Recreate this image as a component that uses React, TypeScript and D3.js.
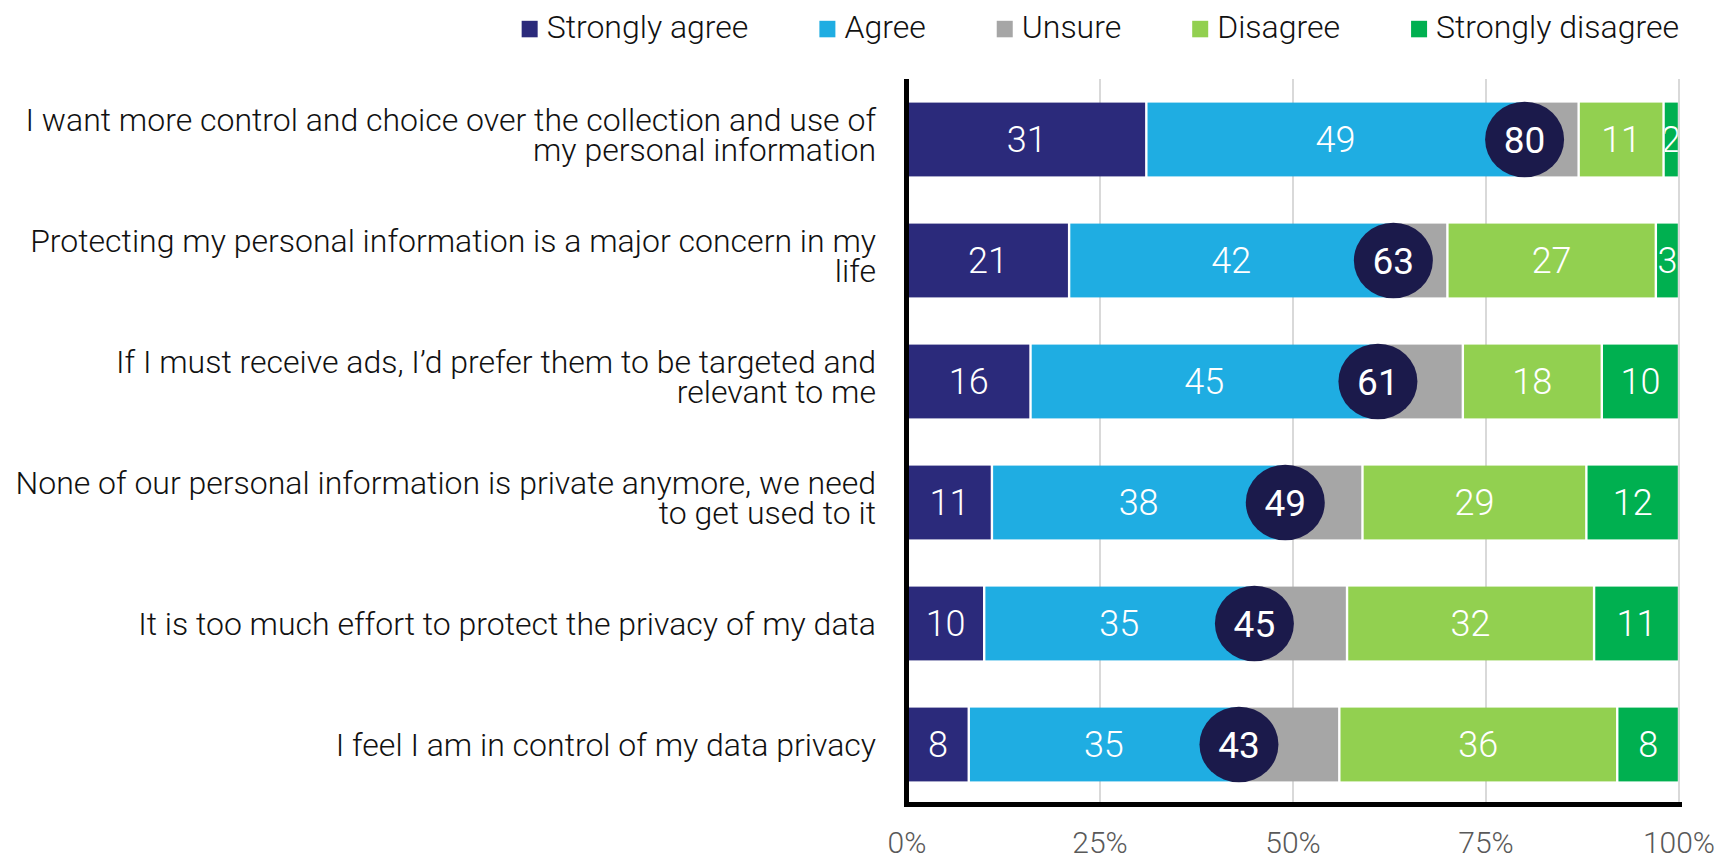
import React, { useEffect, useRef } from "react";
import * as d3 from "d3";

const categoryLines: string[][] = [
  ["I want more control and choice over the collection and use of", "my personal information"],
  ["Protecting my personal information is a major concern in my", "life"],
  ["If I must receive ads, I\u2019d prefer them to be targeted and", "relevant to me"],
  ["None of our personal information is private anymore, we need", "to get used to it"],
  ["It is too much effort to protect the privacy of my data"],
  ["I feel I am in control of my data privacy"],
];
const seriesNames = ["Strongly agree", "Agree", "Unsure", "Disagree", "Strongly disagree"];
const stronglyAgree = [31, 21, 16, 11, 10, 8];
const agree = [49, 42, 45, 38, 35, 35];
const unsure = [7, 7, 11, 10, 12, 13];
const disagree = [11, 27, 18, 29, 32, 36];
const stronglyDisagree = [2, 3, 10, 12, 11, 8];
const showValue = [true, true, false, true, true];
const tickValues = [0, 25, 50, 75, 100];
const colors = ["#2b2a7b", "#1fade2", "#a6a6a6", "#92d050", "#00b050"];

const W = 1722;
const H = 858;
const FONT = "Roboto, 'Noto Sans', sans-serif";

export default function App() {
  const ref = useRef<SVGSVGElement>(null);

  useEffect(() => {
    const svg = d3.select(ref.current);
    svg.selectAll("*").remove();

    const ids = categoryLines.map((_, i) => "c" + i);
    const rows = ids.map((id, i) => ({
      id,
      [seriesNames[0]]: stronglyAgree[i],
      [seriesNames[1]]: agree[i],
      [seriesNames[2]]: unsure[i],
      [seriesNames[3]]: disagree[i],
      [seriesNames[4]]: stronglyDisagree[i],
    }));
    const stacked = d3.stack<any>().keys(seriesNames)(rows);

    const x = d3.scaleLinear().domain([0, 100]).range([907, 1679]);
    const y = d3
      .scaleBand<string>()
      .domain(ids)
      .range([79, 805])
      .paddingInner(0.39)
      .paddingOuter(0.195);

    const defs = svg.append("defs");

    // gridlines
    svg
      .append("g")
      .selectAll("line")
      .data(tickValues.filter((t) => t > 0))
      .join("line")
      .attr("x1", (d) => x(d))
      .attr("x2", (d) => x(d))
      .attr("y1", 79)
      .attr("y2", 803)
      .attr("stroke", "#d9d9d9")
      .attr("stroke-width", 2);

    // bars
    const gap = 1.2;
    stacked.forEach((layer, si) => {
      const g = svg.append("g");
      layer.forEach((seg, ri) => {
        const x0 = x(seg[0]);
        const x1 = x(seg[1]);
        const yy = y(ids[ri])!;
        const bw = y.bandwidth();
        const rx0 = si === 0 ? x0 : x0 + gap;
        const rw = Math.max(0, x1 - gap - rx0);
        g.append("rect")
          .attr("x", rx0)
          .attr("y", yy)
          .attr("width", rw)
          .attr("height", bw)
          .attr("fill", colors[si]);
        if (showValue[si]) {
          const cid = `clip-${si}-${ri}`;
          defs
            .append("clipPath")
            .attr("id", cid)
            .append("rect")
            .attr("x", rx0)
            .attr("y", yy)
            .attr("width", rw)
            .attr("height", bw);
          g.append("text")
            .attr("clip-path", `url(#${cid})`)
            .attr("x", (x0 + x1) / 2)
            .attr("y", yy + bw / 2)
            .attr("dy", "0.36em")
            .attr("text-anchor", "middle")
            .attr("font-family", FONT)
            .attr("font-weight", 300)
            .attr("font-size", 36)
            .attr("fill", "#ffffff")
            .text(String(seg[1] - seg[0]));
        }
      });
    });

    // total ellipses
    const totals = ids.map((_, i) => stronglyAgree[i] + agree[i]);
    const tg = svg.append("g");
    totals.forEach((t, i) => {
      const cy = y(ids[i])! + y.bandwidth() / 2;
      tg.append("ellipse")
        .attr("cx", x(t))
        .attr("cy", cy)
        .attr("rx", 39.5)
        .attr("ry", 37.8)
        .attr("fill", "#1b1a4b");
      tg.append("text")
        .attr("x", x(t))
        .attr("y", cy)
        .attr("dy", "0.36em")
        .attr("text-anchor", "middle")
        .attr("font-family", FONT)
        .attr("font-weight", 400)
        .attr("font-size", 37)
        .attr("fill", "#ffffff")
        .text(String(t));
    });

    // axes
    svg
      .append("line")
      .attr("x1", 906.5)
      .attr("x2", 906.5)
      .attr("y1", 79)
      .attr("y2", 807)
      .attr("stroke", "#000")
      .attr("stroke-width", 5);
    svg
      .append("line")
      .attr("x1", 904)
      .attr("x2", 1682)
      .attr("y1", 804.5)
      .attr("y2", 804.5)
      .attr("stroke", "#000")
      .attr("stroke-width", 5);

    // tick labels
    svg
      .append("g")
      .selectAll("text")
      .data(tickValues)
      .join("text")
      .attr("x", (d) => x(d))
      .attr("y", 853)
      .attr("text-anchor", "middle")
      .attr("font-family", FONT)
      .attr("font-weight", 300)
      .attr("font-size", 30)
      .attr("fill", "#595959")
      .text((d) => d + "%");

    // category labels
    const lineH = 30;
    const lg = svg.append("g");
    categoryLines.forEach((lines, i) => {
      const cy = y(ids[i])! + y.bandwidth() / 2;
      const off = lines.length > 1 ? -5.5 : 0;
      const startY = cy + off - ((lines.length - 1) * lineH) / 2;
      const t = lg
        .append("text")
        .attr("text-anchor", "end")
        .attr("font-family", FONT)
        .attr("font-weight", 300)
        .attr("font-size", 32)
        .attr("fill", "#111");
      lines.forEach((ln, li) => {
        t.append("tspan")
          .attr("x", 876)
          .attr("y", startY + li * lineH)
          .attr("dy", "0.36em")
          .text(ln);
      });
    });

    // legend (right-aligned flow layout)
    const leg = svg.append("g");
    const items = seriesNames.map((name, i) => {
      const g = leg.append("g");
      g.append("rect").attr("width", 16).attr("height", 16.5).attr("y", 20.8).attr("fill", colors[i]);
      const tx = g
        .append("text")
        .attr("x", 25)
        .attr("y", 38.3)
        .attr("font-family", FONT)
        .attr("font-weight", 300)
        .attr("font-size", 32)
        .attr("fill", "#111")
        .text(name);
      const w = (tx.node() as SVGTextElement).getComputedTextLength();
      return { g, w: 25 + w };
    });
    const itemGap = 71;
    const total = items.reduce((s, it) => s + it.w, 0) + itemGap * (items.length - 1);
    let cx = 1679 - total;
    items.forEach((it) => {
      it.g.attr("transform", `translate(${cx},0)`);
      cx += it.w + itemGap;
    });
  }, []);

  return (
    <svg
      ref={ref}
      width={W}
      height={H}
      style={{ position: "absolute", left: 0, top: 0, display: "block", background: "#fff" }}
    />
  );
}
